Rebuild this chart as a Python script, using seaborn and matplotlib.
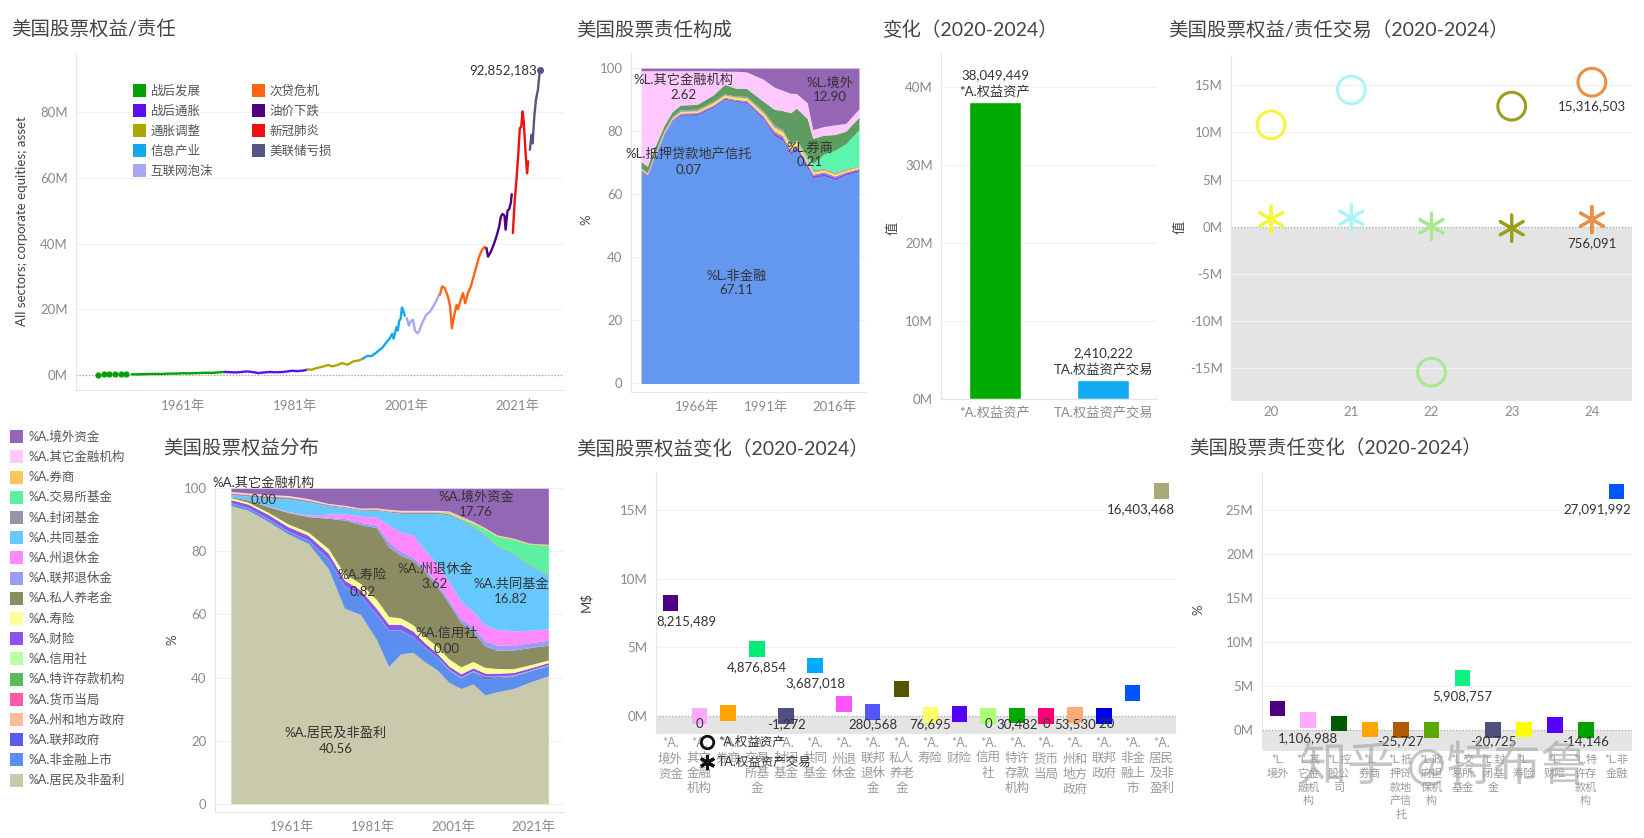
import numpy as np
import pandas as pd
import matplotlib
matplotlib.use('Agg')
import matplotlib.pyplot as plt
import matplotlib.ticker as mticker
from matplotlib.patches import Rectangle
from matplotlib.lines import Line2D
import seaborn as sns

# ---------------- data ----------------
# 美国股票权益/责任 (M = 百万美元单位下的百万)
eras = ['战后发展', '战后通胀', '通胀调整', '信息产业', '互联网泡沫',
        '次贷危机', '油价下跌', '新冠肺炎', '美联储亏损']
era_colors = ['#00a000', '#5a10ee', '#a8a800', '#13a8ec', '#a8a8f0',
              '#ff6414', '#500082', '#ee1111', '#555580']

dots_yr = [1945.75, 1946.75, 1947.75, 1948.75, 1949.75, 1950.75]
dots_val = [0.11, 0.12, 0.12, 0.12, 0.13, 0.15]

postwar_yr = [1951.75, 1953, 1954, 1955, 1956, 1957, 1958, 1959, 1960, 1961,
              1962, 1963, 1964, 1965, 1966, 1967, 1968.5]
postwar_val = [0.17, 0.17, 0.22, 0.28, 0.30, 0.27, 0.35, 0.40, 0.40, 0.50,
               0.45, 0.52, 0.58, 0.65, 0.60, 0.73, 0.90]
infl_yr = [1968.5, 1969.5, 1970.5, 1971.5, 1972.5, 1973.5, 1974.5, 1975.5,
           1976.5, 1977.5, 1978.5, 1979.5, 1980.5, 1981.5, 1982.5, 1983.2]
infl_val = [0.90, 0.80, 0.75, 0.90, 1.05, 0.85, 0.55, 0.75, 0.90, 0.80,
            0.85, 1.00, 1.25, 1.15, 1.30, 1.55]
adj_yr = [1983.25, 1984, 1985, 1986, 1987, 1987.75, 1988.5, 1989.5, 1990.5,
          1991.5, 1992.5, 1993.3]
adj_val = [1.7, 1.6, 2.1, 2.5, 3.0, 2.6, 2.9, 3.6, 3.1, 4.1, 4.4, 5.0]
info_yr = [1993.3, 1994, 1994.75, 1995.5, 1996, 1996.75, 1997.5, 1998, 1998.5,
           1998.75, 1999.25, 1999.5, 1999.75, 2000.0, 2000.25, 2000.5, 2000.75]
info_val = [5.0, 5.8, 5.7, 6.6, 7.3, 8.3, 10.0, 11.0, 12.5, 11.0, 14.5, 13.5,
            16.5, 17.0, 20.5, 19.5, 18.0]
bubble_yr = [2001.1, 2001.5, 2001.75, 2002.2, 2002.6, 2003.0, 2003.3, 2003.7,
             2004.0, 2004.6, 2005.3, 2005.9, 2006.4, 2006.9]
bubble_val = [17.3, 15.0, 16.2, 16.8, 13.5, 12.7, 13.2, 15.0, 16.2, 18.3,
              19.3, 21.0, 22.5, 24.4]
gfc_yr = [2007.06, 2007.45, 2007.9, 2008.5, 2008.9, 2009.2, 2009.7, 2010.05,
          2010.3, 2010.7, 2011.2, 2011.6, 2012.1, 2012.6, 2013.1, 2013.6,
          2014.1, 2014.6, 2015.1, 2015.4]
gfc_val = [24.4, 26.9, 26.5, 23.9, 20.8, 14.2, 18.8, 21.3, 20.0, 22.3, 24.9,
           21.8, 25.0, 26.9, 29.9, 33.0, 36.0, 38.0, 39.0, 38.5]
oil_yr = [2015.4, 2015.7, 2016.2, 2016.7, 2017.2, 2017.7, 2018.0, 2018.3,
          2018.65, 2018.85, 2019.2, 2019.5, 2019.8, 2019.95]
oil_val = [38.6, 36.0, 37.5, 39.6, 42.1, 45.2, 48.2, 49.0, 48.5, 44.2, 50.0,
           50.5, 52.5, 55.0]
covid_yr = [2020.15, 2020.5, 2020.8, 2021.1, 2021.4, 2021.65, 2021.9, 2022.1,
            2022.4, 2022.7, 2022.9]
covid_val = [43.2, 53.3, 59.4, 66.5, 75.1, 75.5, 80.2, 77.2, 68.5, 61.4, 65.0]
fed_yr = [2023.2, 2023.5, 2023.7, 2024.0, 2024.3, 2024.65, 2025.0]
fed_val = [68.5, 73.1, 70.5, 78.7, 83.8, 86.8, 92.852183]

# 美国股票责任构成 (%)
yrs_l = [1945.75, 1948, 1950, 1954, 1957, 1960, 1966, 1972, 1976, 1980, 1984,
         1990, 1994, 1997, 2000, 2002, 2006, 2008, 2012, 2016, 2020, 2024.75]
L_nf = [67.0, 65.5, 70.0, 78.5, 83.0, 85.0, 85.0, 87.5, 90.0, 89.3, 88.8,
        83.6, 78.5, 77.0, 72.5, 74.0, 68.0, 65.0, 65.8, 64.5, 66.0, 67.11]
L_dep = [0.5, 0.5, 0.5, 0.5, 0.5, 0.5, 0.6, 0.6, 0.5, 0.5, 0.6,
         0.8, 1.0, 1.0, 1.0, 1.2, 1.2, 1.0, 0.9, 0.9, 0.8, 0.8]
L_pc = [0.3, 0.3, 0.3, 0.3, 0.3, 0.3, 0.3, 0.3, 0.3, 0.3, 0.4,
        0.5, 0.6, 0.6, 0.5, 0.5, 0.5, 0.4, 0.4, 0.4, 0.3, 0.3]
L_life = [0.2, 0.2, 0.2, 0.3, 0.3, 0.4, 0.5, 0.6, 0.6, 0.6, 0.7,
          0.8, 1.0, 1.2, 1.2, 1.0, 0.8, 0.6, 0.5, 0.5, 0.4, 0.4]
L_broker = [0.1, 0.1, 0.1, 0.1, 0.1, 0.1, 0.1, 0.1, 0.1, 0.1, 0.1,
            0.2, 0.2, 0.2, 0.2, 0.2, 0.2, 0.2, 0.2, 0.2, 0.2, 0.21]
L_reit = [0, 0, 0, 0, 0, 0, 0, 0.05, 0.05, 0.05, 0.05,
          0.05, 0.05, 0.05, 0.05, 0.05, 0.05, 0.05, 0.05, 0.05, 0.05, 0.07]
L_cef = [0.3, 0.3, 0.4, 0.5, 0.5, 0.5, 0.5, 0.4, 0.3, 0.3, 0.4,
         0.6, 0.6, 0.5, 0.4, 0.4, 0.5, 0.5, 0.4, 0.4, 0.3, 0.3]
L_etf = [0, 0, 0, 0, 0, 0, 0, 0, 0, 0, 0,
         0, 0, 0, 0, 0, 0.8, 2.0, 4.5, 7.0, 8.0, 11.29]
L_hold = [2.0, 2.0, 2.0, 1.5, 1.5, 1.5, 1.5, 2.0, 3.0, 2.5, 2.5,
          3.0, 5.0, 6.0, 10.0, 10.0, 12.0, 8.0, 6.0, 5.0, 4.0, 4.0]
L_other = [28.8, 30.3, 25.7, 17.5, 13.0, 10.9, 10.7, 7.65, 4.15, 5.35, 5.25,
           6.95, 7.05, 6.45, 6.15, 4.65, 4.95, 2.75, 2.75, 3.05, 2.45, 2.62]
L_foreign = [0.8, 0.8, 0.8, 0.8, 0.8, 0.8, 0.8, 0.8, 1.0, 1.0, 1.2,
             3.5, 6.0, 7.0, 8.0, 8.0, 11.0, 19.5, 18.5, 18.0, 17.5, 12.9]
liab_layers = [L_nf, L_dep, L_pc, L_life, L_broker, L_reit, L_cef, L_etf,
               L_hold, L_other, L_foreign]
liab_colors = ['#6497f0', '#7b5fe0', '#a07ad8', '#ffe45c', '#ffb000',
               '#d49a3a', '#9a9aaa', '#5cf5ad', '#5f9c5f', '#ffc8ff', '#9466b4']

# 变化（2020-2024）
bar_names = ['*A.权益资产', 'TA.权益资产交易']
bar_vals = [38049449, 2410222]
bar_colors = ['#00a800', '#10aaf5']

# 美国股票权益/责任交易（2020-2024）
d_years = ['20', '21', '22', '23', '24']
d_colors = ['#f5f53c', '#aaf5f5', '#a8e890', '#9aa01e', '#e8904a']
d_asset = [10800000, 14500000, -15400000, 12780000, 15316503]
d_trans = [800000, 950000, 50000, -150000, 756091]

# 美国股票权益分布 (%)
yrs_a = [1945.75, 1950, 1955, 1960, 1965, 1970, 1974, 1978, 1982, 1985, 1988,
         1991, 1994, 1997, 2000, 2003, 2006, 2009, 2012, 2016, 2020, 2024.75]
A_hh = [94.5, 93.0, 89.5, 85.5, 82.5, 74.5, 62.0, 60.0, 52.0, 43.5, 47.5,
        48.0, 45.0, 42.5, 38.5, 36.5, 38.0, 34.5, 35.5, 36.5, 38.5, 40.56]
A_nfc = [0.8, 0.8, 0.8, 0.8, 1.0, 3.0, 7.0, 6.0, 8.0, 11.5, 7.5,
         5.0, 4.5, 4.0, 4.0, 3.5, 4.0, 5.0, 4.5, 4.0, 3.5, 3.3]
A_fed = [0, 0, 0, 0, 0, 0, 0, 0, 0, 0, 0,
         0, 0, 0, 0, 0, 0, 0.8, 0.3, 0.1, 0.1, 0.1]
A_sl = [0, 0, 0, 0, 0, 0, 0, 0, 0, 0, 0,
        0, 0, 0, 0.1, 0.1, 0.1, 0.1, 0.1, 0.1, 0.1, 0.1]
A_mon = [0] * 22
A_dep = [0.1] * 22
A_cu = [0] * 22
A_pc = [1.0, 1.1, 1.3, 1.4, 1.5, 1.8, 1.8, 1.7, 1.8, 1.8, 1.8,
        1.7, 1.4, 1.2, 1.0, 1.0, 0.9, 0.9, 0.9, 0.8, 0.7, 0.6]
A_life = [0.6, 0.6, 0.7, 0.9, 1.0, 1.5, 2.0, 2.0, 2.8, 2.5, 2.0,
          2.0, 2.0, 2.2, 2.2, 2.2, 2.0, 1.8, 1.5, 1.2, 1.0, 0.82]
A_priv = [0.3, 0.7, 1.8, 3.6, 4.9, 9.6, 17.0, 18.7, 22.8, 22.1, 19.9,
          20.4, 20.5, 19.0, 17.6, 14.0, 9.5, 6.8, 5.8, 5.9, 5.5, 4.72]
A_fedret = [0.0, 0.0, 0.0, 0.1, 0.1, 0.3, 0.5, 0.7, 0.8, 1.5, 1.2,
            1.0, 1.0, 1.0, 1.0, 1.2, 1.4, 1.6, 1.6, 1.5, 1.5, 1.5]
A_state = [0.0, 0.0, 0.1, 0.2, 0.4, 1.0, 1.5, 2.0, 2.5, 5.5, 6.0,
           7.0, 6.0, 6.0, 6.0, 5.5, 5.0, 5.0, 5.0, 4.6, 4.0, 3.62]
A_mf = [0.7, 1.2, 2.6, 4.0, 4.2, 2.6, 2.0, 1.8, 2.2, 4.0, 6.0,
        6.8, 11.5, 16.0, 21.0, 25.5, 26.5, 28.4, 26.2, 24.2, 20.5, 16.82]
A_cef = [0.5, 0.5, 0.6, 0.6, 0.5, 0.4, 0.3, 0.3, 0.3, 0.3, 0.5,
         0.5, 0.5, 0.5, 0.4, 0.4, 0.4, 0.3, 0.3, 0.3, 0.3, 0.3]
A_etf = [0, 0, 0, 0, 0, 0, 0, 0, 0, 0, 0,
         0, 0, 0, 0.3, 0.5, 1.0, 1.8, 3.0, 4.5, 6.5, 9.4]
A_bd = [0.2, 0.2, 0.2, 0.2, 0.2, 0.2, 0.2, 0.2, 0.3, 0.3, 0.3,
        0.3, 0.3, 0.3, 0.4, 0.4, 0.4, 0.3, 0.3, 0.3, 0.3, 0.3]
A_oth = [0.3, 0.3, 0.3, 0.3, 0.3, 0.2, 0.2, 0.2, 0.2, 0.2, 0.2,
         0.2, 0.2, 0.2, 0.2, 0.2, 0.2, 0.1, 0.1, 0.1, 0.0, 0.0]
A_for = [1.0, 1.5, 2.0, 2.3, 3.3, 4.8, 5.4, 6.3, 6.2, 6.7, 7.0,
         7.0, 7.0, 7.0, 7.2, 8.9, 10.5, 12.5, 14.8, 15.8, 17.4, 17.76]
asset_names = ['境外资金', '其它金融机构', '券商', '交易所基金', '封闭基金', '共同基金',
               '州退休金', '联邦退休金', '私人养老金', '寿险', '财险', '信用社',
               '特许存款机构', '货币当局', '州和地方政府', '联邦政府', '非金融上市', '居民及非盈利']
asset_colors = ['#9467b5', '#ffc8ff', '#ffc45a', '#5cf0a0', '#9494aa', '#66c8ff',
                '#ff88ff', '#9a9aff', '#8c8c62', '#ffff99', '#8a55ee', '#bbffaa',
                '#5abb5a', '#ff5aa8', '#ffbb9a', '#5a5aee', '#5c8ef0', '#c9c9ab']
asset_layers_top_down = [A_for, A_oth, A_bd, A_etf, A_cef, A_mf, A_state, A_fedret,
                         A_priv, A_life, A_pc, A_cu, A_dep, A_mon, A_sl, A_fed, A_nfc, A_hh]

# 美国股票权益变化（2020-2024）
g_names = asset_names
g_colors = ['#4b0082', '#ffaaff', '#ffa500', '#00ee77', '#505080', '#00aaff',
            '#ff55ff', '#5555ff', '#555500', '#ffff66', '#5500ff', '#aaff77',
            '#00aa00', '#ff0077', '#ffaa77', '#0000ee', '#0055ff', '#aaaa77']
g_vals = [8215489, 0, 220000, 4876854, -1272, 3687018, 880000, 280568, 1970000,
          76695, 150000, 0, 30482, 0, 53530, -20, 1680000, 16403468]
g_show = [1, 1, 0, 1, 1, 1, 0, 1, 0, 1, 0, 1, 1, 1, 1, 1, 0, 1]

# 美国股票责任变化（2020-2024）
h_names = ['境外', '其它金融机构', '控股公司', '券商', '抵押贷款地产信托', '政府担保机构',
           '交易所基金', '封闭基金', '寿险', '财险', '特许存款机构', '非金融']
h_colors = ['#4b0082', '#ffaaff', '#005a00', '#ffa500', '#b35900', '#5aa800',
            '#10f080', '#505080', '#ffff00', '#5500ff', '#00a000', '#0055ff']
h_vals = [2450000, 1106988, 750000, 80000, -25727, 10000, 5908757, -20725,
          80000, 570000, -14146, 27091992]
h_show = [0, 1, 0, 0, 1, 0, 1, 1, 0, 0, 1, 1]

# ---------------- style ----------------
sns.set_theme(style='white')
plt.rcParams['font.family'] = ['Lato', 'Noto Sans CJK SC']
plt.rcParams['axes.unicode_minus'] = False

W, H = 1644, 838
fig = plt.figure(figsize=(W / 100, H / 100), dpi=100)
TICK = '#8a8a8a'
TXT = '#333333'


def add_ax(l, t, r, b):
    return fig.add_axes([l / W, 1 - b / H, (r - l) / W, (b - t) / H])


def style(ax, xpad=6):
    for s in ['top', 'right']:
        ax.spines[s].set_visible(False)
    for s in ['left', 'bottom']:
        ax.spines[s].set_color('#e6e6e6')
        ax.spines[s].set_linewidth(0.8)
    ax.tick_params(axis='y', length=0, labelsize=9.5, labelcolor=TICK, pad=6)
    ax.tick_params(axis='x', length=0, labelsize=9.5, labelcolor=TICK, pad=xpad)
    ax.grid(axis='y', color='#f0f0f0', lw=0.8)
    ax.grid(axis='x', visible=False)
    ax.set_axisbelow(True)
    ax.set_xlabel('')
    ax.set_ylabel('')


def title(x, y, s):
    fig.text(x / W, 1 - y / H, s, fontsize=14, color='#444444', va='center', ha='left')


def ylab(x, y, s, fs=9.5):
    fig.text(x / W, 1 - y / H, s, fontsize=fs, color='#444444', va='center',
             ha='center', rotation=90)


def square_legend(items, x0, y0, dy, size=13, gap=5, fs=9):
    for i, (name, col) in enumerate(items):
        yc = y0 + i * dy
        fig.add_artist(Rectangle((x0 / W, 1 - (yc + size / 2) / H), size / W, size / H,
                                 transform=fig.transFigure, facecolor=col, edgecolor='none'))
        fig.text((x0 + size + gap) / W, 1 - yc / H, name, va='center', ha='left',
                 fontsize=fs, color='#555555')


fmt_M = mticker.FuncFormatter(lambda v, p: f'{v:.0f}M')
zero_ls = (0, (1, 1.5))

# ---------------- A: line ----------------
ax = add_ax(76, 53, 563, 390)
segments = [(eras[0], postwar_yr, postwar_val), (eras[1], infl_yr, infl_val),
            (eras[2], adj_yr, adj_val), (eras[3], info_yr, info_val),
            (eras[4], bubble_yr, bubble_val), (eras[5], gfc_yr, gfc_val),
            (eras[6], oil_yr, oil_val), (eras[7], covid_yr, covid_val),
            (eras[8], fed_yr, fed_val)]
df_line = pd.concat([pd.DataFrame({'year': y, 'val': v, 'era': e}) for e, y, v in segments])
ax.axhline(0, color='#aaaaaa', lw=0.9, ls=zero_ls, zorder=1)
sns.lineplot(data=df_line, x='year', y='val', hue='era', hue_order=eras,
             palette=era_colors, lw=1.7, legend=False, estimator=None, ax=ax)
sns.scatterplot(x=dots_yr, y=dots_val, color=era_colors[0], s=20, linewidth=0, ax=ax)
sns.scatterplot(x=[fed_yr[-1]], y=[fed_val[-1]], color=era_colors[8], s=26, linewidth=0, ax=ax)
ax.text(fed_yr[-1] - 0.6, fed_val[-1], f'{round(fed_val[-1] * 1e6):,}', ha='right',
        va='center', fontsize=9.5, color=TXT)
ax.set_xlim(1941.75, 2029.15)
ax.set_ylim(-4.6, 98)
ax.set_yticks([0, 20, 40, 60, 80])
ax.yaxis.set_major_formatter(fmt_M)
ax.set_xticks([1961, 1981, 2001, 2021])
ax.set_xticklabels([f'{y}年' for y in [1961, 1981, 2001, 2021]])
style(ax, xpad=7)
title(11, 29, '美国股票权益/责任')
ylab(22, 221, 'All sectors; corporate equities; asset')
square_legend(list(zip(eras[:5], era_colors[:5])), 132.7, 90.7, 20)
square_legend(list(zip(eras[5:], era_colors[5:])), 251.9, 90.7, 20)

# ---------------- B: liability area ----------------
ax = add_ax(631, 53, 866, 392)
ax.stackplot(yrs_l, *liab_layers, colors=liab_colors, lw=0)
ax.set_xlim(1942.1, 2027.3)
ax.set_ylim(-2.7, 104.8)
ax.set_yticks([0, 20, 40, 60, 80, 100])
ax.set_xticks([1966, 1991, 2016])
ax.set_xticklabels([f'{y}年' for y in [1966, 1991, 2016]])
style(ax, xpad=6)
liab_labels = [('%L.其它金融机构', L_other[-1], 1961.1, 96.3, 91.4),
               ('%L.境外', L_foreign[-1], 2014.2, 95.5, 90.9),
               ('%L.抵押贷款地产信托', L_reit[-1], 1962.9, 72.7, 67.8),
               ('%L.券商', L_broker[-1], 2007.0, 74.8, 70.1),
               ('%L.非金融', L_nf[-1], 1980.4, 34.0, 29.6)]
for name, v, x, y1, y2 in liab_labels:
    ax.text(x, y1, name, ha='center', va='center', fontsize=9.5, color=TXT)
    ax.text(x, y2, f'{v:.2f}', ha='center', va='center', fontsize=9.5, color=TXT)
title(576, 30, '美国股票责任构成')
ylab(586, 220, '%')

# ---------------- C: bars ----------------
ax = add_ax(941, 53, 1157, 399)
bar_m = [v / 1e6 for v in bar_vals]
sns.barplot(x=bar_names, y=bar_m, hue=bar_names, palette=bar_colors, width=0.48,
            saturation=1, legend=False, ax=ax)
for i, (n, v) in enumerate(zip(bar_names, bar_vals)):
    ax.annotate(n, (i, v / 1e6), xytext=(0, 8), textcoords='offset points',
                ha='center', va='center', fontsize=9.5, color=TXT)
    ax.annotate(f'{v:,}', (i, v / 1e6), xytext=(0, 19.5), textcoords='offset points',
                ha='center', va='center', fontsize=9.5, color=TXT)
ax.set_xlim(-0.5, 1.5)
ax.set_ylim(0, 44.4)
ax.set_yticks([0, 10, 20, 30, 40])
ax.yaxis.set_major_formatter(fmt_M)
style(ax, xpad=5)
title(883, 30, '变化（2020-2024）')
ylab(893, 228, '值')

# ---------------- D: scatter ----------------
ax = add_ax(1231, 55, 1632, 400)
ax.axhspan(-18.35, 0, color='#e4e4e4', lw=0, zorder=0)
ax.axhline(0, color='#aaaaaa', lw=0.9, ls=zero_ls, zorder=1)
xd = [int(y) for y in d_years]
sns.scatterplot(x=xd, y=[v / 1e6 for v in d_asset], hue=d_years, palette=d_colors,
                s=400, legend=False, ax=ax, zorder=3)
pts = ax.collections[-1]
pts.set_edgecolors(pts.get_facecolors())
pts.set_facecolors('none')
pts.set_linewidths(2.2)
sns.scatterplot(x=xd, y=[v / 1e6 for v in d_trans], hue=d_years, palette=d_colors,
                marker=(6, 2, 0), s=360, linewidth=2.2, legend=False, ax=ax, zorder=3)
pts = ax.collections[-1]
pts.set_edgecolors(pts.get_facecolors())
ax.text(xd[-1], d_asset[-1] / 1e6 - 2.5, f'{d_asset[-1]:,}', ha='center', va='center',
        fontsize=9.5, color=TXT)
ax.text(xd[-1], d_trans[-1] / 1e6 - 2.5, f'{d_trans[-1]:,}', ha='center', va='center',
        fontsize=9.5, color=TXT)
ax.set_xlim(19.5, 24.5)
ax.set_ylim(-18.35, 18.2)
ax.set_yticks([-15, -10, -5, 0, 5, 10, 15])
ax.yaxis.set_major_formatter(fmt_M)
ax.set_xticks(xd)
ax.set_xticklabels(d_years)
style(ax, xpad=4)
ax.grid(axis='y', color='#f2f2f2', lw=0.8)
title(1168, 29, '美国股票权益/责任交易（2020-2024）')
ylab(1180, 227, '值')

# ---------------- E: legend for asset areas ----------------
square_legend([('%A.' + n, c) for n, c in zip(asset_names, asset_colors)],
              10, 436.7, 20.2, size=13, gap=5.3, fs=9)

# ---------------- F: asset area ----------------
ax = add_ax(215, 475, 563, 812)
ax.stackplot(yrs_a, *asset_layers_top_down[::-1], colors=asset_colors[::-1], lw=0)
ax.set_xlim(1941.8, 2028.4)
ax.set_ylim(-2.6, 104.2)
ax.set_yticks([0, 20, 40, 60, 80, 100])
ax.set_xticks([1961, 1981, 2001, 2021])
ax.set_xticklabels([f'{y}年' for y in [1961, 1981, 2001, 2021]])
style(ax, xpad=6)
asset_labels = [('%A.其它金融机构', A_oth[-1], 1953.9, 101.6, 96.3),
                ('%A.境外资金', A_for[-1], 2006.7, 97.5, 92.6),
                ('%A.寿险', A_life[-1], 1978.5, 72.5, 67.2),
                ('%A.州退休金', A_state[-1], 1996.5, 74.6, 69.6),
                ('%A.共同基金', A_mf[-1], 2015.4, 69.8, 64.8),
                ('%A.信用社', A_cu[-1], 1999.4, 54.3, 49.2),
                ('%A.居民及非盈利', A_hh[-1], 1971.8, 22.5, 17.5)]
for name, v, x, y1, y2 in asset_labels:
    ax.text(x, y1, name, ha='center', va='center', fontsize=9.5, color=TXT)
    ax.text(x, y2, f'{v:.2f}', ha='center', va='center', fontsize=9.5, color=TXT)
title(163, 448, '美国股票权益分布')
ylab(172, 640, '%')


# ---------------- G / H: change squares ----------------
def wrap(prefix, name, first_on_top):
    if first_on_top and len(name) > 2:
        head, rest = prefix + name[0], name[1:]
    else:
        head, rest = prefix, name
    return '\n'.join([head] + [rest[i:i + 2] for i in range(0, len(rest), 2)])


def change_panel(rect, names, colors, vals, show, ylim, yticks, off, clamp, prefix,
                 first_top, label_fs):
    ax = add_ax(*rect)
    n = len(names)
    ax.axhspan(ylim[0], 0, color='#e4e4e4', lw=0, zorder=0)
    ax.axhline(0, color='#aaaaaa', lw=0.9, ls=zero_ls, zorder=1)
    df = pd.DataFrame({'pos': np.arange(n), 'val': [v / 1e6 for v in vals], 'cat': names})
    sns.scatterplot(data=df, x='pos', y='val', hue='cat', palette=colors, marker='s',
                    s=125, linewidth=0, legend=False, ax=ax, zorder=3)
    for i, (v, sh) in enumerate(zip(vals, show)):
        if not sh:
            continue
        y = max(v / 1e6 - off, clamp)
        if i == 0:
            ax.text(-0.47, y, f'{v:,}', ha='left', va='center', fontsize=9.5, color=TXT)
        elif i == n - 1:
            ax.text(n - 0.53, y, f'{v:,}', ha='right', va='center', fontsize=9.5, color=TXT)
        else:
            ax.text(i, y, f'{v:,}', ha='center', va='center', fontsize=9.5, color=TXT)
    ax.set_xlim(-0.5, n - 0.5)
    ax.set_ylim(*ylim)
    ax.set_yticks(yticks)
    ax.yaxis.set_major_formatter(fmt_M)
    ax.set_xticks(np.arange(n))
    ax.set_xticklabels([wrap(prefix, nm, first_top) for nm in names], va='top',
                       fontsize=label_fs, color='#9a9a9a', linespacing=1.3)
    style(ax, xpad=3)
    ax.tick_params(axis='x', labelsize=label_fs, labelcolor='#9a9a9a')
    ax.grid(axis='y', color='#f2f2f2', lw=0.8)
    return ax


ax_g = change_panel((656, 472, 1176, 733), g_names, g_colors, g_vals, g_show,
                    (-1.24, 17.78), [0, 5, 10, 15], 1.31, -0.6, '*A.', False, 9)
title(576, 448, '美国股票权益变化（2020-2024）')
ylab(586, 602, 'M$')

ax_h = change_panel((1262, 473, 1632, 750), h_names, h_colors, h_vals, h_show,
                    (-2.27, 29.17), [0, 5, 10, 15, 20, 25], 2.05, -1.22, '*L.', True, 8)
title(1189, 448, '美国股票责任变化（2020-2024）')
ylab(1198, 610, '%')

# shape legend drawn over the asset change panel (as in the source dashboard)
fig.add_artist(Line2D([707 / W], [1 - 742 / H], marker='o', ms=9, mfc='none', mec='#111111',
                      mew=2, transform=fig.transFigure))
fig.add_artist(Line2D([707 / W], [1 - 762 / H], marker=(6, 2, 0), ms=11, mec='#111111',
                      mew=2.2, transform=fig.transFigure))
fig.text(718 / W, 1 - 742 / H, bar_names[0], va='center', ha='left', fontsize=9, color=TXT)
fig.text(718 / W, 1 - 762 / H, bar_names[1], va='center', ha='left', fontsize=9, color=TXT)

# watermark
fig.text(1300 / W, 1 - 765 / H, '知乎 @特布鲁', fontsize=34, color='#a0a0a0', alpha=0.6,
         va='center', ha='left')

fig.savefig('out.png', dpi=100, facecolor='white')
